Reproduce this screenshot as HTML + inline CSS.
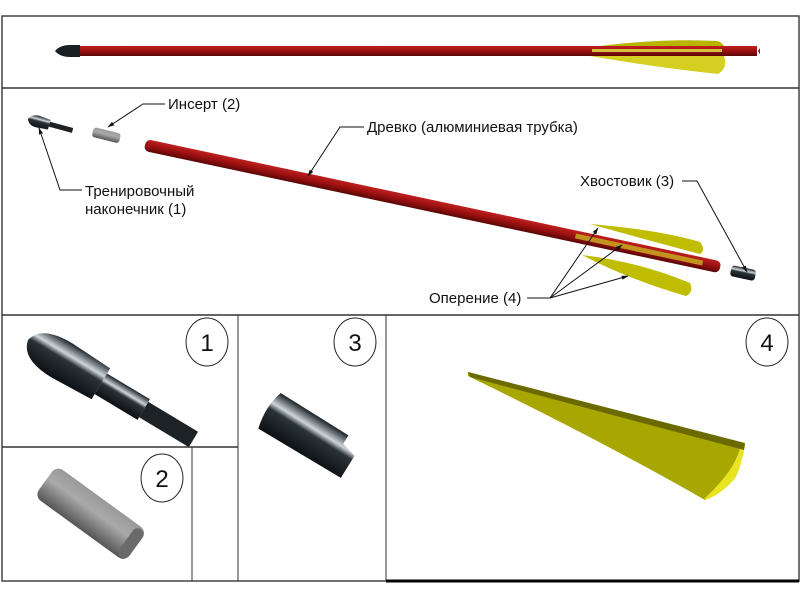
<!DOCTYPE html>
<html><head><meta charset="utf-8"><style>
html,body{margin:0;padding:0;background:#fff;}
svg{display:block}
text{font-family:"Liberation Sans",sans-serif;font-size:15px;fill:#111}
</style></head><body>
<svg width="800" height="600" viewBox="0 0 800 600" xmlns="http://www.w3.org/2000/svg">
<defs>
<linearGradient id="red" x1="0" y1="0" x2="0" y2="1"><stop offset="0" stop-color="#c02020"/><stop offset="0.5" stop-color="#9a1010"/><stop offset="1" stop-color="#5a0606"/></linearGradient>
<linearGradient id="blk" x1="0" y1="0" x2="0" y2="1"><stop offset="0" stop-color="#1a2228"/><stop offset="0.3" stop-color="#cfd6da"/><stop offset="0.45" stop-color="#2a3338"/><stop offset="1" stop-color="#0c1014"/></linearGradient>
<linearGradient id="gry" x1="0" y1="0" x2="0" y2="1"><stop offset="0" stop-color="#999"/><stop offset="0.4" stop-color="#aaa"/><stop offset="1" stop-color="#555"/></linearGradient>
<marker id="ah" viewBox="0 0 10 10" refX="9" refY="5" markerWidth="7" markerHeight="7" orient="auto"><path d="M0,2 L10,5 L0,8 z" fill="#111"/></marker>
</defs>
<rect x="2" y="16" width="797" height="565" fill="none" stroke="#444" stroke-width="1.5"/>
<line x1="2" y1="88" x2="799" y2="88" stroke="#333" stroke-width="1.5"/>
<line x1="2" y1="315" x2="799" y2="315" stroke="#333" stroke-width="1.5"/>
<line x1="238" y1="315" x2="238" y2="581" stroke="#333"/>
<line x1="386" y1="315" x2="386" y2="581" stroke="#333"/>
<line x1="2" y1="447" x2="238" y2="447" stroke="#333" stroke-width="1.5"/>
<line x1="192" y1="447" x2="192" y2="581" stroke="#333"/>
<line x1="386" y1="581" x2="799" y2="581" stroke="#000" stroke-width="3"/>

<!-- top arrow -->
<path d="M592,47 Q660,38 718,41 Q728,46 722,51 L592,51 Z" fill="#b8b400"/>
<rect x="78" y="46" width="682" height="10" fill="url(#red)"/>
<rect x="592" y="49" width="130" height="3" fill="#d8c040"/>
<path d="M55,51 Q60,45 70,45 L80,45 L80,57 L70,57 Q60,57 55,51 Z" fill="#1a1f22"/>
<path d="M590,56 L724,56 Q728,68 718,74 Q660,68 590,56 Z" fill="#d4cf20"/>
<path d="M757,45 L762,45 L758,51 L762,57 L757,57 Z" fill="#fff"/>

<!-- middle: tip -->
<g transform="translate(28,119) rotate(15)">
<path d="M0,0 Q2,-6 10,-6 L22,-5 L22,5 L10,6 Q2,6 0,0 Z" fill="url(#blk)"/>
<rect x="22" y="-3" width="24" height="5" fill="#1c2226"/>
</g>
<g transform="translate(94,127) rotate(14)"><rect x="0" y="0" width="28" height="10" rx="3" fill="url(#gry)"/></g>
<g transform="translate(145,145) rotate(12)">
<rect x="0" y="-6" width="588" height="12" rx="5" fill="url(#red)"/>
<rect x="440" y="-3" width="130" height="5" fill="#c8a020" opacity="0.9"/>
</g>
<path d="M590,224 Q660,230 700,242 Q706,250 700,254 Q640,238 590,224 Z" fill="#c0bc00"/>
<path d="M582,255 Q640,262 690,283 Q694,292 686,296 Q630,280 582,255 Z" fill="#c0bc00"/>
<g transform="translate(731,270) rotate(12)"><rect x="0" y="-5" width="25" height="11" rx="3" fill="url(#blk)"/></g>

<text x="168" y="109">Инсерт (2)</text>
<polyline points="165,104 143,104 108,127" fill="none" stroke="#111" marker-end="url(#ah)"/>
<text x="367" y="132">Древко (алюминиевая трубка)</text>
<polyline points="364,127 340,127 308,176" fill="none" stroke="#111" marker-end="url(#ah)"/>
<text x="85" y="196">Тренировочный</text>
<text x="85" y="214">наконечник (1)</text>
<polyline points="82,190 60,190 39,128" fill="none" stroke="#111" marker-end="url(#ah)"/>
<text x="580" y="186">Хвостовик (3)</text>
<polyline points="682,181 697,181 747,272" fill="none" stroke="#111" marker-end="url(#ah)"/>
<text x="429" y="303">Оперение (4)</text>
<polyline points="527,298 550,298 598,228" fill="none" stroke="#111" marker-end="url(#ah)"/>
<polyline points="550,298 622,245" fill="none" stroke="#111" marker-end="url(#ah)"/>
<polyline points="550,298 628,276" fill="none" stroke="#111" marker-end="url(#ah)"/>

<g fill="#fff" stroke="#222" stroke-width="1">
<ellipse cx="207" cy="342" rx="21" ry="24"/><ellipse cx="355" cy="342" rx="21" ry="24"/>
<ellipse cx="767" cy="342" rx="21" ry="24"/><ellipse cx="162" cy="478" rx="21" ry="24"/>
</g>
<g text-anchor="middle">
<text x="207" y="351" style="font-size:24px">1</text><text x="355" y="351" style="font-size:24px">3</text>
<text x="767" y="351" style="font-size:24px">4</text><text x="162" y="487" style="font-size:24px">2</text>
</g>

<g transform="translate(28,340) rotate(31)">
<path d="M0,0 Q4,-20 40,-20 L85,-18 L85,18 L40,20 Q4,20 0,0 Z" fill="url(#blk)"/>
<rect x="85" y="-12" width="50" height="24" fill="url(#blk)"/>
<rect x="135" y="-9" width="58" height="18" fill="#1c2226"/>
</g>
<g transform="translate(46,480) rotate(36)">
<rect x="0" y="-18" width="112" height="38" rx="8" fill="url(#gry)"/>
<rect x="100" y="-16" width="12" height="34" rx="6" fill="#6a6a6a"/>
</g>
<g transform="translate(270,410) rotate(32)">
<path d="M0,-20 L80,-20 L80,-10 L96,-6 L96,20 L0,22 Q-6,0 0,-20 Z" fill="url(#blk)"/>
</g>
<path d="M468,372 L745,444 Q740,470 735,478 Q720,495 705,500 Q600,440 468,376 Z" fill="#a8a600"/>
<path d="M705,500 Q722,494 735,478 Q740,470 745,446 L740,448 Q735,470 705,498 Z" fill="#e8e420"/>
<path d="M468,372 L745,443 L744,450 L470,377 Z" fill="#6b6a00"/>
</svg>
</body></html>
